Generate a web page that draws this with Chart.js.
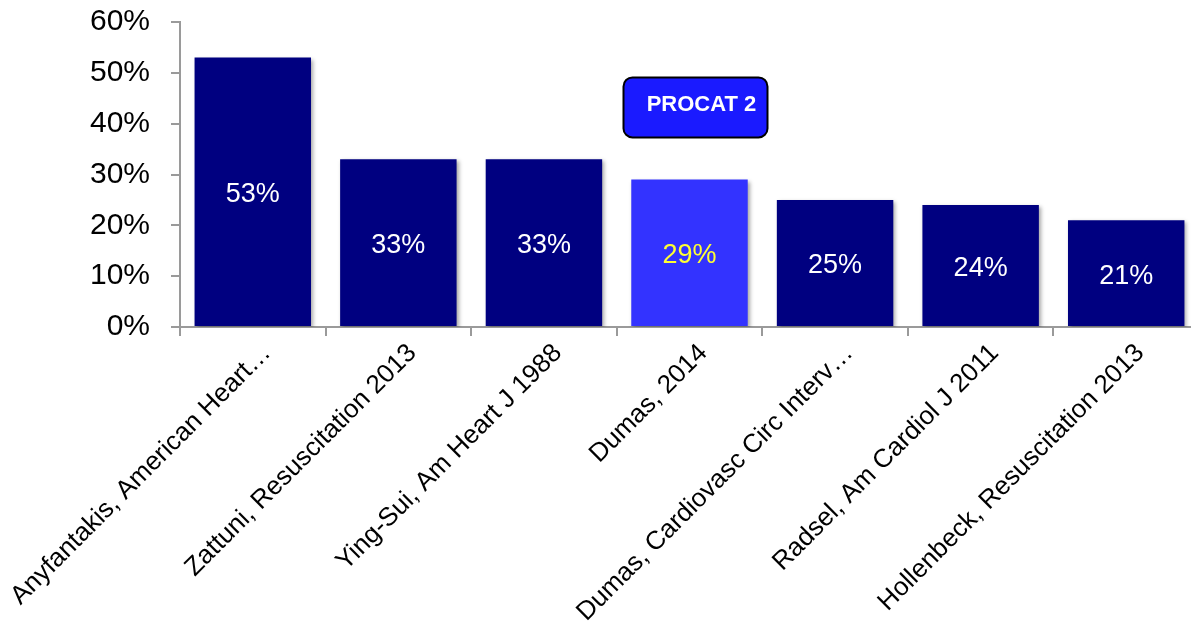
<!DOCTYPE html>
<html lang="en">
<head>
  <meta charset="UTF-8" />
  <title>Survival rates by study</title>
  <script src="https://cdn.jsdelivr.net/npm/chart.js"></script>
  <style>
    * { margin: 0; padding: 0; box-sizing: border-box; }
    body { background: #fff; width: 1191px; height: 633px; overflow: hidden; }
    canvas { display: block; }
  </style>
</head>
<body>
  <!-- axis runs a few px past the window's right edge -->
  <canvas id="studyChart" width="1199" height="633"></canvas>

  <script>
    const studies = [
      'Anyfantakis, American Heart…',
      'Zattuni, Resuscitation 2013',
      'Ying-Sui, Am Heart J 1988',
      'Dumas, 2014',
      'Dumas, Cardiovasc Circ Interv…',
      'Radsel, Am Cardiol J 2011',
      'Hollenbeck, Resuscitation 2013'
    ];
    const rates = [53, 33, 33, 29, 25, 24, 21];
    const yTicks = [0, 10, 20, 30, 40, 50, 60];
    const highlightIndex = 3;   // PROCAT 2 study
    const calloutText = 'PROCAT 2';

    const NAVY = '#000080';
    const BRIGHT = '#3333ff';
    const AXIS = '#9a9a9a';
    const FONT = "'Liberation Sans', Arial, sans-serif";

    // soft drop shadow under the bars
    const barShadow = {
      id: 'barShadow',
      beforeDatasetsDraw(chart) {
        const ctx = chart.ctx;
        ctx.save();
        ctx.shadowColor = 'rgba(0, 0, 0, 0.35)';
        ctx.shadowBlur = 4;
        ctx.shadowOffsetX = 2;
        ctx.shadowOffsetY = 2;
      },
      afterDatasetsDraw(chart) {
        chart.ctx.restore();
      }
    };

    // value labels in the middle of each bar, plus the PROCAT 2 callout
    const barLabels = {
      id: 'barLabels',
      afterDatasetsDraw(chart) {
        const ctx = chart.ctx;
        const meta = chart.getDatasetMeta(0);
        ctx.save();
        ctx.font = '27px ' + FONT;
        ctx.textAlign = 'center';
        ctx.textBaseline = 'middle';
        meta.data.forEach((bar, i) => {
          ctx.fillStyle = i === highlightIndex ? '#ffff33' : '#ffffff';
          ctx.fillText(rates[i] + '%', bar.x, (bar.y + bar.base) / 2 + 3);
        });

        const y = chart.scales.y;
        const hb = meta.data[highlightIndex];
        const w = 144, h = 60;
        const cx = hb.x + 6, cy = y.getPixelForValue(43.2);
        ctx.beginPath();
        ctx.roundRect(cx - w / 2, cy - h / 2, w, h, 9);
        ctx.fillStyle = '#1a1aff';
        ctx.fill();
        ctx.lineWidth = 2;
        ctx.strokeStyle = '#000';
        ctx.stroke();
        ctx.fillStyle = '#fff';
        ctx.font = 'bold 22px ' + FONT;
        ctx.fillText(calloutText, cx + 6, cy - 2);
        ctx.restore();
      }
    };

    new Chart(document.getElementById('studyChart'), {
      type: 'bar',
      data: {
        labels: studies,
        datasets: [{
          data: rates,
          backgroundColor: rates.map((_, i) => i === highlightIndex ? BRIGHT : NAVY),
          borderWidth: 0,
          barPercentage: 0.8,
          categoryPercentage: 1
        }]
      },
      options: {
        responsive: false,
        animation: false,
        layout: { padding: { top: 22, right: 0, left: 0, bottom: 0 } },
        plugins: {
          legend: { display: false },
          tooltip: { enabled: false }
        },
        scales: {
          x: {
            grid: { drawOnChartArea: false, color: AXIS, lineWidth: 2, tickLength: 9 },
            border: { color: AXIS, width: 2 },
            ticks: {
              color: '#000',
              font: { family: FONT, size: 26 },
              minRotation: 45,
              maxRotation: 45,
              padding: 2,
              labelOffset: 14,
              autoSkip: false
            },
            afterFit(scale) {
              scale.height = 306;
              scale.paddingLeft = 0;
              scale.paddingRight = 0;
            }
          },
          y: {
            min: 0,
            max: 60,
            afterBuildTicks(scale) {
              scale.ticks = yTicks.map(v => ({ value: v }));
            },
            grid: { drawOnChartArea: false, color: AXIS, lineWidth: 2, tickLength: 9 },
            border: { color: AXIS, width: 2 },
            ticks: {
              color: '#000',
              font: { family: FONT, size: 30 },
              padding: 21,
              callback: v => v + '%'
            },
            afterFit(scale) {
              scale.width = 180;
              scale.paddingTop = 0;
              scale.paddingBottom = 0;
            }
          }
        }
      },
      plugins: [barShadow, barLabels]
    });
  </script>
</body>
</html>
